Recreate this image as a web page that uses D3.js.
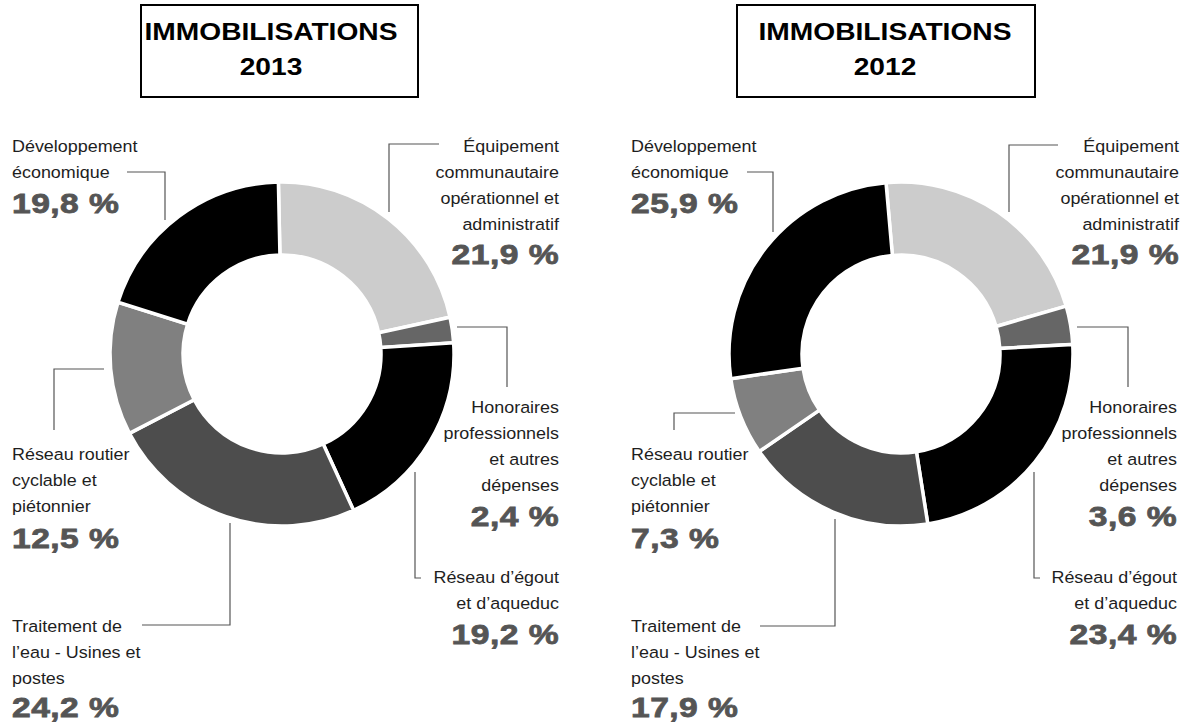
<!DOCTYPE html>
<html>
<head>
<meta charset="utf-8">
<script src="https://cdn.jsdelivr.net/npm/d3@7"></script>
<style>
  html, body { margin: 0; padding: 0; background: #fff; }
  svg { display: block; }
</style>
</head>
<body>
<svg id="chart" width="1189" height="723"></svg>
<script>
// Categories, in drawing order (clockwise from the top)
const categories = [
  "Équipement communautaire opérationnel et administratif",
  "Honoraires professionnels et autres dépenses",
  "Réseau d’égout et d’aqueduc",
  "Traitement de l’eau - Usines et postes",
  "Réseau routier cyclable et piétonnier",
  "Développement économique"
];

// Share of capital assets (%) per category
const values2013 = [21.9, 2.4, 19.2, 24.2, 12.5, 19.8];
const values2012 = [21.9, 3.6, 23.4, 17.9, 7.3, 25.9];

const years = ["2013", "2012"];
const titleText = "IMMOBILISATIONS";

// Label text broken into lines, same order as categories
const labelLines = [
  ["Équipement", "communautaire", "opérationnel et", "administratif"],
  ["Honoraires", "professionnels", "et autres", "dépenses"],
  ["Réseau d’égout", "et d’aqueduc"],
  ["Traitement de", "l’eau - Usines et", "postes"],
  ["Réseau routier", "cyclable et", "piétonnier"],
  ["Développement", "économique"]
];

const fills = ["#cccccc", "#666666", "#000000", "#4d4d4d", "#808080", "#000000"];

const fmt = v => d3.format(".1f")(v).replace(".", ",") + " %";

// ---- layout ----
const FONT = "'Liberation Sans', Arial, Helvetica, sans-serif";
const LINE_H = 26;
const TXT_SX = 1.1;    // regular labels are set slightly wide
const PCT_SX = 1.2;    // percentages are wider still
const TITLE_SX = 1.15;

// label placement: anchor, x, first baseline, gap to the percentage, leader polyline
function labelLayout(dx) {
  return [
    { anchor: "end",   x: 559 + dx, y: 152, gap: 34, leader: [[439, 144], [389, 144], [389, 212]] },
    { anchor: "end",   x: 559 + dx, y: 413, gap: 35, leader: [[457, 327], [507, 327], [507, 387]] },
    { anchor: "end",   x: 559 + dx, y: 583, gap: 35, leader: [[415, 472], [415, 578], [421, 578]] },
    { anchor: "start", x: 12 + dx,  y: 632, gap: 33, leader: [[230, 523], [230, 625], [142, 625]] },
    { anchor: "start", x: 12 + dx,  y: 460, gap: 36, leader: [[104, 369], [54, 369], [54, 430]] },
    { anchor: "start", x: 12 + dx,  y: 152, gap: 35, leader: [[127, 172], [165, 172], [165, 220]] }
  ];
}

const charts = [
  {
    year: years[0], values: values2013, cx: 282, cy: 354, start: -1.2,
    box: [141, 5, 277, 92], titleX: 271,
    layout: labelLayout(0)
  },
  {
    year: years[1], values: values2012, cx: 901, cy: 354, start: -5,
    box: [737, 5, 298, 92], titleX: 885,
    layout: (() => {
      const l = labelLayout(619);
      l[0].x = 1179; l[0].leader = [[1058, 145], [1009, 145], [1009, 212]];
      l[1].x = 1177; l[1].leader = [[1077, 327], [1128, 327], [1128, 387]];
      l[2].x = 1177; l[2].leader = [[1034, 472], [1034, 578], [1040, 578]];
      l[3].x = 631;  l[3].leader = [[835, 519], [835, 626], [760, 626]];
      l[4].x = 631;  l[4].leader = [[735, 413], [674, 413], [674, 430]];
      l[5].x = 631;  l[5].leader = [[747, 172], [773, 172], [773, 232]];
      return l;
    })()
  }
];

const svg = d3.select("#chart");
const outerR = 172, innerR = 99;
const arc = d3.arc().innerRadius(innerR).outerRadius(outerR);
const lineGen = d3.line();

charts.forEach(c => {
  const g = svg.append("g");

  // title box
  g.append("rect")
    .attr("x", c.box[0]).attr("y", c.box[1])
    .attr("width", c.box[2]).attr("height", c.box[3])
    .attr("fill", "#fff").attr("stroke", "#000").attr("stroke-width", 2);

  [[titleText, 39.5], [c.year, 75]].forEach(([t, y]) => {
    g.append("text")
      .attr("transform", `translate(${c.titleX},${y}) scale(${TITLE_SX},1)`)
      .attr("text-anchor", "middle")
      .attr("font-family", FONT)
      .attr("font-weight", "bold")
      .attr("font-size", 24.5)
      .attr("fill", "#000")
      .text(t);
  });

  // donut
  const a0 = c.start * Math.PI / 180;
  const pie = d3.pie().sort(null).value(d => d)
    .startAngle(a0).endAngle(a0 + 2 * Math.PI);
  const arcs = pie(c.values);

  g.append("g")
    .attr("transform", `translate(${c.cx},${c.cy})`)
    .selectAll("path")
    .data(arcs)
    .join("path")
    .attr("d", arc)
    .attr("fill", (d, i) => fills[i])
    .attr("stroke", "#fff")
    .attr("stroke-width", 3.5)
    .attr("stroke-linejoin", "miter");

  // leaders and labels
  arcs.forEach((d, i) => {
    const L = c.layout[i];
    g.append("path")
      .attr("d", lineGen(L.leader))
      .attr("fill", "none")
      .attr("stroke", "#555")
      .attr("stroke-width", 1.2);

    labelLines[i].forEach((t, k) => {
      g.append("text")
        .attr("transform", `translate(${L.x},${L.y + k * LINE_H}) scale(${TXT_SX},1)`)
        .attr("text-anchor", L.anchor)
        .attr("font-family", FONT)
        .attr("font-size", 16.3)
        .attr("fill", "#1e1e1e")
        .text(t);
    });

    const py = L.y + (labelLines[i].length - 1) * LINE_H + L.gap;
    g.append("text")
      .attr("transform", `translate(${L.x},${py}) scale(${PCT_SX},1)`)
      .attr("text-anchor", L.anchor)
      .attr("font-family", FONT)
      .attr("font-weight", "bold")
      .attr("font-size", 28)
      .attr("fill", "#555")
      .attr("stroke", "#555")
      .attr("stroke-width", 0.8)
      .attr("letter-spacing", 0.4)
      .text(fmt(d.data));
  });
});
</script>
</body>
</html>
